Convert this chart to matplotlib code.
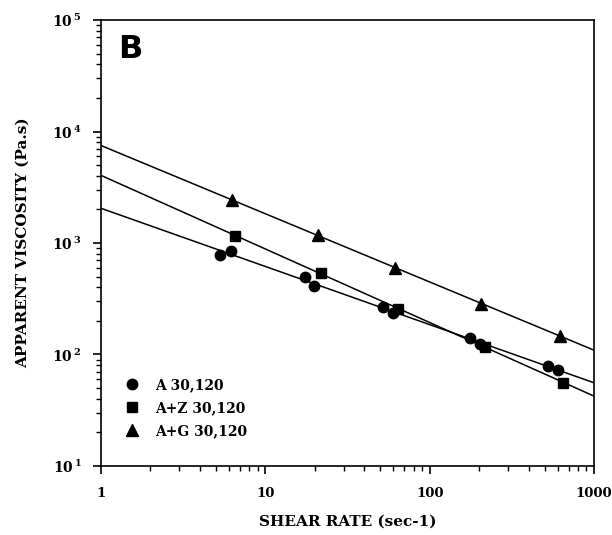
import numpy as np
import matplotlib
matplotlib.use("Agg")
import matplotlib.pyplot as plt
from matplotlib.ticker import FixedLocator, FuncFormatter, LogLocator, NullFormatter

plt.rcParams['font.family'] = ['DejaVu Serif']
plt.rcParams['font.weight'] = 'bold'
plt.rcParams['mathtext.fontset'] = 'dejavuserif'
plt.rcParams['mathtext.default'] = 'bf'

# shear rate (1/s) and apparent viscosity (Pa.s)
a_rate = [5.3, 6.2, 17.4, 19.9, 52.3, 60.1, 176, 203, 528, 607]
a_visc = [780, 853, 499, 414, 265, 234, 140, 124, 79, 72]

az_rate = [6.5, 21.8, 64.5, 217, 651]
az_visc = [1163, 541, 254, 117, 56]

ag_rate = [6.25, 20.8, 61.6, 206, 622]
ag_visc = [2430, 1185, 600, 282, 148]

labels = ['A 30,120', 'A+Z 30,120', 'A+G 30,120']
markers = ['o', 's', '^']
sizes = [7.5, 7.5, 8]

fig = plt.figure(figsize=(6.12, 5.35), dpi=100)
ax = fig.add_axes([0.165, 0.129, 0.8056, 0.8336])

xfit = np.logspace(0, 3, 50)
series = [(a_rate, a_visc), (az_rate, az_visc), (ag_rate, ag_visc)]
for (x, y), lab, m, s in zip(series, labels, markers, sizes):
    # power-law fit drawn across the whole axis
    k, b = np.polyfit(np.log10(x), np.log10(y), 1)
    ax.plot(xfit, 10 ** (b + k * np.log10(xfit)), color='black', lw=1.1)
    ax.plot(x, y, linestyle='none', marker=m, markersize=s, color='black', label=lab)

ax.set_xscale('log')
ax.set_yscale('log')
ax.set_xlim(1, 1000)
ax.set_ylim(10, 1e5)

ax.xaxis.set_major_locator(FixedLocator([1, 10, 100, 1000]))
ax.xaxis.set_major_formatter(FuncFormatter(lambda v, p: '%d' % v))
ax.yaxis.set_major_locator(FixedLocator([10, 100, 1000, 1e4, 1e5]))
ax.yaxis.set_major_formatter(FuncFormatter(lambda v, p: r'10$^{\,%d}$' % round(np.log10(v))))
ax.xaxis.set_minor_locator(LogLocator(base=10, subs=np.arange(2, 10)))
ax.yaxis.set_minor_locator(LogLocator(base=10, subs=np.arange(2, 10)))
ax.xaxis.set_minor_formatter(NullFormatter())
ax.yaxis.set_minor_formatter(NullFormatter())
ax.tick_params(which='major', direction='out', length=6, width=1.2, labelsize=10)
ax.tick_params(axis='x', which='major', labelsize=9.5, pad=9)
ax.tick_params(axis='y', which='major', pad=8)
ax.tick_params(which='minor', direction='out', length=3.5, width=1)

for sp in ax.spines.values():
    sp.set_linewidth(1.2)

ax.set_xlabel('SHEAR RATE (sec-1)', fontsize=11, fontweight='bold', labelpad=11)
ax.set_ylabel('APPARENT VISCOSITY (Pa.s)', fontsize=11, fontweight='bold', labelpad=16)

ax.text(0.035, 0.933, 'B', transform=ax.transAxes, fontsize=23, fontweight='bold',
        family='DejaVu Sans', va='center', ha='left')

ax.legend(loc='lower left', bbox_to_anchor=(0.02, 0.035), frameon=False, numpoints=1,
          handlelength=1.2, handletextpad=1.1, labelspacing=0.65, fontsize=10)

fig.savefig('out.png', dpi=100)
